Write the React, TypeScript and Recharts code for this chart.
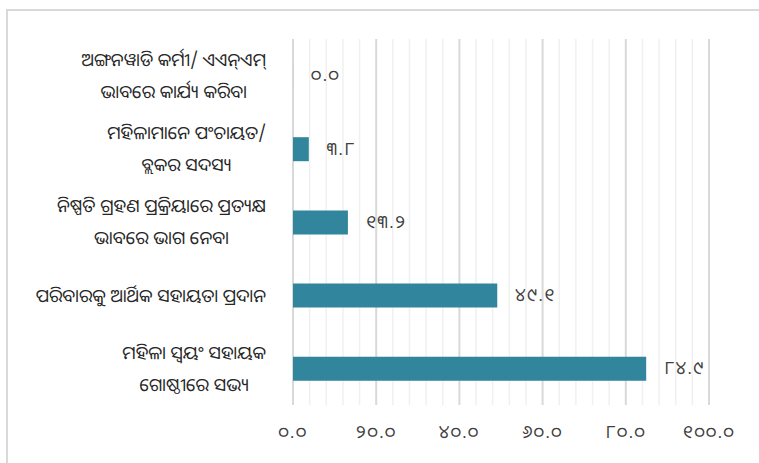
import React, { useLayoutEffect, useRef, useState } from "react";
import { BarChart, Bar, XAxis, YAxis, CartesianGrid, LabelList } from "recharts";

const categories: string[] = [
  "ଅଙ୍ଗନୱାଡି କର୍ମୀ/ ଏଏନ୍‌ଏମ୍\nଭାବରେ କାର୍ଯ୍ୟ କରିବା",
  "ମହିଳାମାନେ ପଂଚାୟତ/\nବ୍ଲକର ସଦସ୍ୟ",
  "ନିଷ୍ପତି ଗ୍ରହଣ ପ୍ରକ୍ରିୟାରେ ପ୍ରତ୍ୟକ୍ଷ\nଭାବରେ ଭାଗ ନେବା",
  "ପରିବାରକୁ ଆର୍ଥିକ ସହାୟତା ପ୍ରଦାନ",
  "ମହିଳା ସ୍ୱୟଂ ସହାୟକ\nଗୋଷ୍ଠୀରେ ସଭ୍ୟ",
];
const values: number[] = [0.0, 3.8, 13.2, 49.1, 84.9];
const xTicks: number[] = [0, 20, 40, 60, 80, 100];
const minorGrid: number[] = [4, 8, 12, 16, 24, 28, 32, 36, 44, 48, 52, 56, 64, 68, 72, 76, 84, 88, 92, 96];

const data = categories.map((c, i) => ({ name: c, value: values[i] }));

const ODIA = "୦୧୨୩୪୫୬୭୮୯";
const fmt = (v: any) =>
  Number(v).toFixed(1).replace(/[0-9]/g, (d) => ODIA[+d]);

const FONT = "'Noto Sans Oriya', 'Noto Sans', sans-serif";

const YTick = (props: any) => {
  const { y, payload } = props;
  const lines: string[] = String(payload.value).split("\n");
  const lh = 32;
  const right = 266;
  const refs = useRef<(SVGTextElement | null)[]>([]);
  const [cx, setCx] = useState<number | null>(null);
  useLayoutEffect(() => {
    let maxW = 0;
    refs.current.forEach((t) => {
      if (t) maxW = Math.max(maxW, t.getComputedTextLength());
    });
    const c = right - maxW / 2;
    if (cx === null || Math.abs(c - cx) > 0.5) setCx(c);
  });
  const y0 = y - ((lines.length - 1) * lh) / 2;
  return (
    <g>
      {lines.map((l, i) => (
        <text
          key={i}
          ref={(el) => {
            refs.current[i] = el;
          }}
          x={cx ?? 160}
          y={y0 + i * lh}
          dy="0.35em"
          textAnchor="middle"
          fontSize={18}
          fontFamily={FONT}
          fill="#262626"
        >
          {l}
        </text>
      ))}
    </g>
  );
};

const XTick = (props: any) => {
  const { x, payload } = props;
  return (
    <text
      x={x}
      y={438}
      textAnchor="middle"
      fontSize={18}
      letterSpacing={1.5}
      fontFamily={FONT}
      fill="#404040"
    >
      {fmt(payload.value)}
    </text>
  );
};

const ValueLabel = (props: any) => {
  const { x, y, width, height, value } = props;
  return (
    <text
      x={Number(x) + Number(width || 0) + 18}
      y={Number(y) + Number(height) / 2}
      dy="0.3em"
      textAnchor="start"
      fontSize={18}
      letterSpacing={1.5}
      fontFamily={FONT}
      fill="#404040"
    >
      {fmt(value)}
    </text>
  );
};

export default function App() {
  return (
    <div
      style={{
        position: "absolute",
        left: 0,
        top: 0,
        width: 759,
        height: 463,
        overflow: "hidden",
        background: "#fff",
      }}
    >
      <div
        style={{
          position: "absolute",
          left: 6,
          top: 9,
          width: 900,
          height: 700,
          border: "2px solid #d9d9d9",
        }}
      />
      <div style={{ position: "absolute", left: 0, top: 0 }}>
        <BarChart
          width={759}
          height={463}
          data={data}
          layout="vertical"
          margin={{ top: 39, right: 50, bottom: 28, left: 0 }}
        >
          <CartesianGrid
            horizontal={false}
            vertical={true}
            verticalValues={minorGrid}
            stroke="#f0f0f0"
            strokeWidth={1.5}
          />
          <CartesianGrid
            horizontal={false}
            vertical={true}
            verticalValues={xTicks}
            stroke="#d9d9d9"
            strokeWidth={2}
          />
          <XAxis
            type="number"
            domain={[0, 100]}
            ticks={xTicks}
            axisLine={false}
            tickLine={false}
            height={30}
            tick={<XTick />}
            interval={0}
          />
          <YAxis
            type="category"
            dataKey="name"
            width={293}
            axisLine={false}
            tickLine={false}
            tick={<YTick />}
            interval={0}
          />
          <Bar
            dataKey="value"
            fill="#31859C"
            barSize={24}
            minPointSize={0.05}
            isAnimationActive={false}
          >
            <LabelList dataKey="value" content={<ValueLabel />} />
          </Bar>
        </BarChart>
      </div>
    </div>
  );
}
